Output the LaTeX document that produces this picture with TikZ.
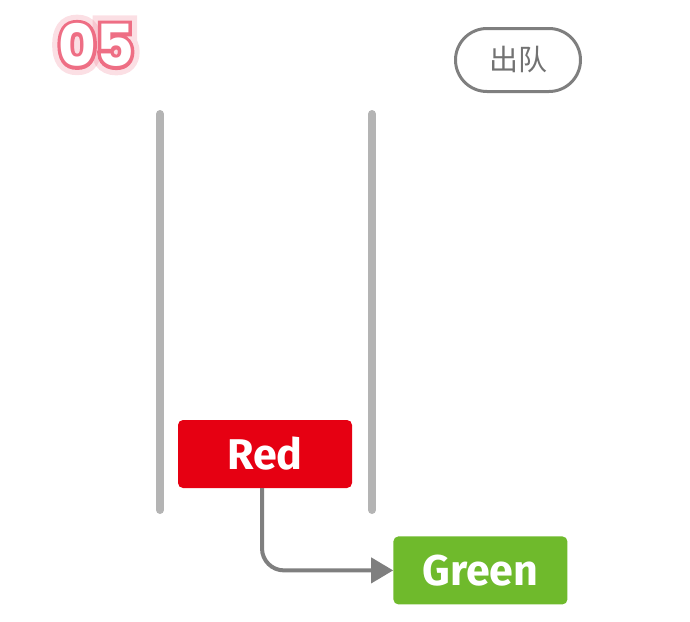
\documentclass[tikz,border=0pt]{standalone}
\usepackage{fontspec}
\setmainfont{Fira Sans}
\newfontfamily\cjkfont{Noto Sans CJK SC}
\newfontfamily\numfont{Poppins}
\newfontfamily\numline[BoldFeatures={FakeBold=12}]{Poppins}
\newfontfamily\numglow[BoldFeatures={FakeBold=30}]{Poppins}
\usetikzlibrary{positioning,arrows.meta,shapes.misc}
\definecolor{qred}{HTML}{E60012}
\definecolor{qgreen}{HTML}{6FBA2C}
\definecolor{qwall}{HTML}{B4B4B4}
\definecolor{qgray}{HTML}{7F7F7F}
\definecolor{qpink}{HTML}{EE6E84}
\tikzset{
  item/.style={rectangle,rounded corners=5pt,minimum width=174pt,minimum height=68pt,
    text=white,inner sep=0pt,font=\bfseries\fontsize{43}{43}\selectfont},
  wall/.style={line width=8pt,draw=qwall,line cap=round},
  move/.style={-{Triangle[length=22pt,width=25pt]},line width=4pt,draw=qgray,rounded corners=22pt},
  tag/.style={rounded rectangle,draw=qgray,line width=3pt,minimum width=125pt,minimum height=63pt,
    text=qgray!90!black,inner sep=0pt,font=\cjkfont\fontsize{29}{29}\selectfont},
  stepnum/.style={inner sep=0pt,font=\bfseries\fontsize{58}{58}\selectfont},
}

\begin{document}
\begin{tikzpicture}[x=1pt,y=-1pt]
  \useasboundingbox (0,0) rectangle (690,621);
  % step number: glow, outline, white face
  \node[stepnum,text=qpink,opacity=0.22] (numglow) at (96,45) {\numglow 05};
  \node[stepnum,text=qpink] (numline) at (96,45) {\numline 05};
  \node[stepnum,text=white] (num) at (96,45) {\numfont 05};

  \node[tag] (deq) at (518,60) {出队};

  % queue walls
  \coordinate (lt) at (160,114);
  \coordinate (lb) at (160,510);
  \coordinate (rt) at (372,114);
  \coordinate (rb) at (372,510);
  \draw[wall] (lt) -- (lb);
  \draw[wall] (rt) -- (rb);

  \node[item,fill=qred] (red) at (265,454) {Red};
  \node[item,fill=qgreen,below right=48pt and 41pt of red] (green) {Green};

  \draw[move] ([xshift=-3pt]red.south) |- (green.west);
\end{tikzpicture}
\end{document}
